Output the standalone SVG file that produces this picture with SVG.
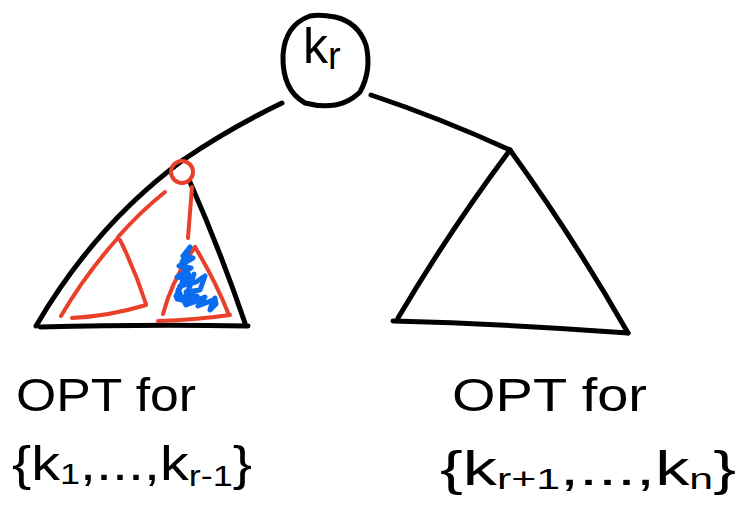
<svg xmlns="http://www.w3.org/2000/svg" width="738" height="511" viewBox="0 0 738 511">
<style>
.ink{fill:none;stroke:#000;stroke-width:5;stroke-linecap:round;stroke-linejoin:round}
.red{fill:none;stroke:#e8402a;stroke-width:4;stroke-linecap:round;stroke-linejoin:round}
.blue{fill:none;stroke:#0a6cf0;stroke-width:5;stroke-linecap:round;stroke-linejoin:round}
.t{font-family:"Liberation Sans","DejaVu Sans",sans-serif;fill:#000}
</style>
<rect width="738" height="511" fill="#fff"/>
<g id="connectors">
<path class="ink" d="M282,103 Q230,128 183,160"/>
<path class="ink" d="M371,95 Q440,118 510,150"/>
</g>
<g id="root">
<path class="ink" d="M310,16 Q285,25 283,55 Q282,90 305,103 Q340,112 360,92 Q372,70 366,45 Q358,22 335,17 Q320,14 310,16 Z"/>
<text class="t" x="303" y="63" font-size="50">k<tspan font-size="38" dy="6">r</tspan></text>
</g>
<g id="left-subtree">
<path class="ink" d="M183,160 Q95,225 36,326"/>
<path class="ink" d="M40,327 Q150,324 248,326"/>
<path class="ink" d="M190,182 Q220,250 245,323"/>
<circle class="red" cx="182" cy="172" r="11"/>
<path class="red" d="M165,192 Q140,212 118,237"/>
<path class="red" d="M117,239 Q85,275 61,316"/>
<path class="red" d="M120,240 Q135,270 146,304"/>
<path class="red" d="M72,318 Q110,316 146,305"/>
<path class="red" d="M192,187 Q190,212 188,238"/>
<path class="red" d="M195,247 Q172,280 163,314"/>
<path class="red" d="M195,247 Q215,280 229,315"/>
<path class="red" d="M158,321 Q195,320 230,315"/>
<path class="blue" d="M190,247 L183,256 L193,258 L179,266 L191,268 L177,277 L192,280 L180,286 L196,282 L205,276 L200,290 L186,292 L197,296 L177,299 L192,302 L205,297 L198,306 L213,300 L210,310 L216,304 L215,298"/>
<path class="blue" d="M188,252 L182,262 L189,275 L178,290 L186,305 L200,300"/>
<path class="blue" d="M186,258 L184,270 L182,284 L176,296 L184,300 L190,286 L194,274"/>
<text class="t" x="16" y="411" font-size="46" textLength="180" lengthAdjust="spacingAndGlyphs">OPT for</text>
<text class="t" x="12" y="480" font-size="48" textLength="240" lengthAdjust="spacingAndGlyphs">{k<tspan font-size="30" dy="4">1</tspan><tspan dy="-4">,...,k</tspan><tspan font-size="30" dy="6">r-1</tspan><tspan dy="-6">}</tspan></text>
</g>
<g id="right-subtree">
<path class="ink" d="M510,150 Q450,230 398,318"/>
<path class="ink" d="M510,150 Q575,240 628,333"/>
<path class="ink" d="M393,321 Q510,324 628,333"/>
<text class="t" x="452" y="411" font-size="46" textLength="195" lengthAdjust="spacingAndGlyphs">OPT for</text>
<text class="t" x="440" y="485" font-size="48" textLength="296" lengthAdjust="spacingAndGlyphs">{k<tspan font-size="30" dy="4">r+1</tspan><tspan dy="-4">,...,k</tspan><tspan font-size="30" dy="4">n</tspan><tspan dy="-4">}</tspan></text>
</g>
</svg>
